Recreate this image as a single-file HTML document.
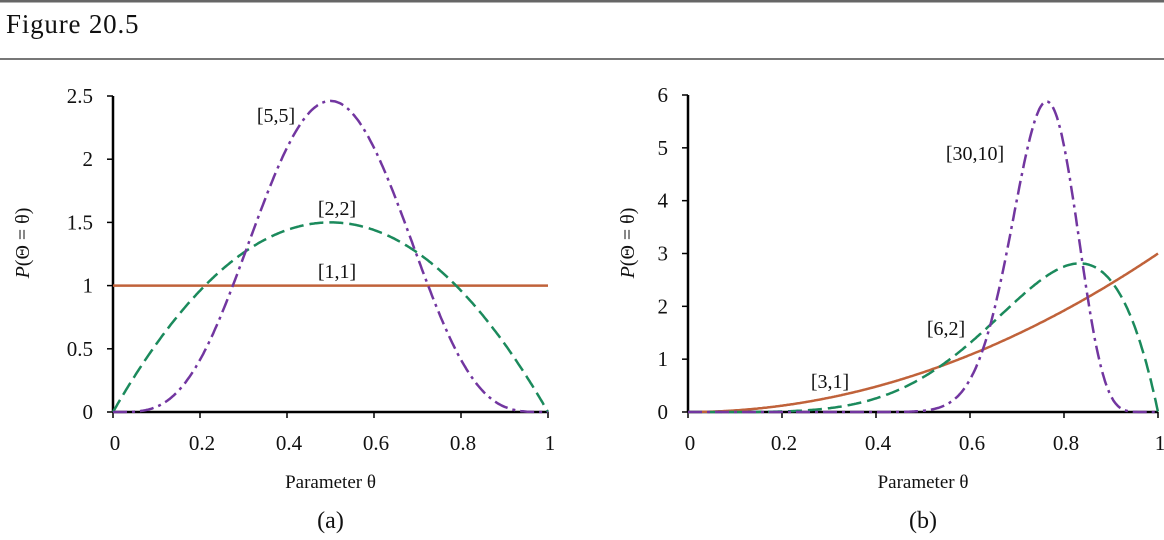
<!DOCTYPE html>
<html><head><meta charset="utf-8"><style>
body{margin:0;background:#fff;width:1164px;height:540px;overflow:hidden}
svg{display:block}
text{font-family:"Liberation Serif",serif;fill:#111}
</style></head><body>
<svg id="s" width="1164" height="540" xmlns="http://www.w3.org/2000/svg">
<rect x="0" y="0" width="1164" height="2.5" fill="#666"/>
<rect x="0" y="58" width="1164" height="2" fill="#777"/>
<text x="6" y="33" font-size="27" letter-spacing="0.8">Figure 20.5</text>
<g id="g"></g>
</svg>
<script>
const g=document.getElementById('g');let h='';
function fact(n){let r=1;for(let i=2;i<=n;i++)r*=i;return r}
function beta(a,b){const c=fact(a+b-1)/(fact(a-1)*fact(b-1));return x=>c*Math.pow(x,a-1)*Math.pow(1-x,b-1)}
function plot(x0,x1,y0,ytop,ymax,ystep,ylabs,curves,cap,labels,ylx){
 const X=x=>x0+(x1-x0)*x, Y=v=>y0-(y0-ytop)*v/ymax;
 h+=`<line x1="${x0}" y1="${ytop}" x2="${x0}" y2="${y0}" stroke="#000" stroke-width="2.5"/>`;
 h+=`<line x1="${x0}" y1="${y0}" x2="${x1}" y2="${y0}" stroke="#000" stroke-width="2.5"/>`;
 for(let i=0;i<=5;i++){const x=X(i/5);h+=`<line x1="${x}" y1="${y0}" x2="${x}" y2="${y0+6}" stroke="#000" stroke-width="1.5"/>`;
  h+=`<text x="${x+2}" y="${y0+38}" font-size="21" text-anchor="middle">${i==0?'0':i==5?'1':(i/5).toFixed(1)}</text>`}
 ylabs.forEach((l,i)=>{const y=Y(i*ystep);h+=`<line x1="${x0-6}" y1="${y}" x2="${x0}" y2="${y}" stroke="#000" stroke-width="1.5"/>`;
  h+=`<text x="${x0-20}" y="${y+7}" font-size="21" text-anchor="end">${l}</text>`});
 curves.forEach(c=>{let d='';for(let i=0;i<=400;i++){const x=i/400;d+=(i?'L':'M')+X(x).toFixed(1)+' '+Y(c.f(x)).toFixed(1)}
  h+=`<path d="${d}" fill="none" stroke="${c.c}" stroke-width="2.5" ${c.d?`stroke-dasharray="${c.d}"`:''}/>`});
 labels.forEach(l=>h+=`<text x="${l[0]}" y="${l[1]}" font-size="20" text-anchor="middle">${l[2]}</text>`);
 const cx=(x0+x1)/2;
 h+=`<text x="${cx}" y="488" font-size="19" text-anchor="middle">Parameter θ</text>`;
 h+=`<text x="${cx}" y="528" font-size="24" text-anchor="middle">${cap}</text>`;
 h+=`<text transform="translate(${ylx},243) rotate(-90)" font-size="20" text-anchor="middle"><tspan font-style="italic">P</tspan>(Θ = θ)</text>`;
}
const O='#c0623a',G='#1b8a5c',P='#7236a0';
plot(113,548,412,96,2.5,0.5,['0','0.5','1','1.5','2','2.5'],[
 {f:x=>1,c:O},{f:beta(2,2),c:G,d:'14 6'},{f:beta(5,5),c:P,d:'14 5 3 5'}],'(a)',
 [[276,122,'[5,5]'],[337,215,'[2,2]'],[337,278,'[1,1]']],29);
plot(688,1158,412,95,6,1,['0','1','2','3','4','5','6'],[
 {f:beta(3,1),c:O},{f:beta(6,2),c:G,d:'14 6'},{f:beta(30,10),c:P,d:'14 5 3 5'}],'(b)',
 [[975,160,'[30,10]'],[946,335,'[6,2]'],[830,388,'[3,1]']],634);
g.innerHTML=h;
</script>
</body></html>
